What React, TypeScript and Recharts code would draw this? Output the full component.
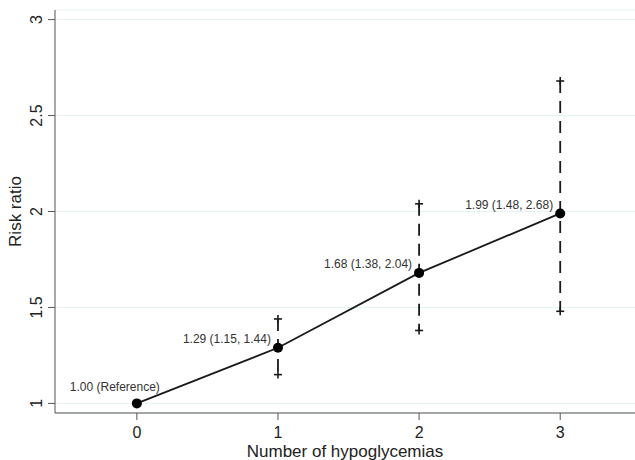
import {
  CartesianGrid,
  ComposedChart,
  LabelList,
  Line,
  ReferenceLine,
  Scatter,
  XAxis,
  YAxis,
} from "recharts";

const hypoCounts = [0, 1, 2, 3];
const riskRatio = [1.0, 1.29, 1.68, 1.99];
const lowerCI: (number | null)[] = [null, 1.15, 1.38, 1.48];
const upperCI: (number | null)[] = [null, 1.44, 2.04, 2.68];
const pointLabels = [
  "1.00 (Reference)",
  "1.29 (1.15, 1.44)",
  "1.68 (1.38, 2.04)",
  "1.99 (1.48, 2.68)",
];
const xTicks = [0, 1, 2, 3];
const yTicks = [1, 1.5, 2, 2.5, 3];

const rows = hypoCounts.map((x, i) => ({ x, rr: riskRatio[i], label: pointLabels[i] }));
const ciRows = hypoCounts
  .map((x, i) => ({ x, lo: lowerCI[i], hi: upperCI[i] }))
  .filter((r) => r.lo !== null && r.hi !== null) as { x: number; lo: number; hi: number }[];
const lowerPts = ciRows.map((r) => ({ x: r.x, y: r.lo }));
const upperPts = ciRows.map((r) => ({ x: r.x, y: r.hi }));

const FONT = "'Liberation Sans', Arial, Helvetica, sans-serif";
const INK = "#1a1a1a";

function PlusMark(props: any) {
  const { cx, cy } = props;
  if (cx == null || cy == null) return null;
  return (
    <g stroke={INK} strokeWidth={1.6}>
      <line x1={cx - 4} y1={cy} x2={cx + 4} y2={cy} />
      <line x1={cx} y1={cy - 4} x2={cx} y2={cy + 4} />
    </g>
  );
}

function PointLabel(props: any) {
  const { x, y, value, index } = props;
  const ref = index === 0;
  return (
    <text
      x={ref ? x + 23 : x - 7}
      y={ref ? y - 17 : y - 9}
      dy="0.35em"
      textAnchor="end"
      fontSize={12}
      fontFamily={FONT}
      fill="#333"
    >
      {value}
    </text>
  );
}

function YTick(props: any) {
  const { x, y, payload } = props;
  const px = x - 4;
  return (
    <text
      x={px}
      y={y}
      transform={`rotate(-90 ${px} ${y})`}
      textAnchor="middle"
      fontSize={16}
      fontFamily={FONT}
      fill="#222"
    >
      {payload.value}
    </text>
  );
}

export default function App() {
  return (
    <div style={{ position: "absolute", left: 0, top: 0, background: "#fff" }}>
      <ComposedChart
        width={635}
        height={460}
        data={rows}
        margin={{ top: 10, right: 0, bottom: 0, left: 0 }}
      >
        <CartesianGrid stroke="#e6f2f2" vertical={false} />
        <XAxis
          dataKey="x"
          type="number"
          domain={[-0.58, 3.53]}
          ticks={xTicks}
          allowDataOverflow
          height={47}
          tickSize={7}
          tickMargin={7}
          stroke="#555"
          tick={{ fontSize: 16, fontFamily: FONT, fill: "#222" }}
          label={{
            content: ({ viewBox }: any) => (
              <text
                x={viewBox.x + viewBox.width / 2}
                y={viewBox.y + 44}
                textAnchor="middle"
                fontSize={17}
                fontFamily={FONT}
                fill="#222"
              >
                Number of hypoglycemias
              </text>
            ),
          }}
        />
        <YAxis
          type="number"
          domain={[0.95, 3.05]}
          ticks={yTicks}
          allowDataOverflow
          width={55}
          tickSize={7}
          stroke="#555"
          tick={<YTick />}
          label={{
            content: ({ viewBox }: any) => {
              const cx = viewBox.x + 21;
              const cy = viewBox.y + viewBox.height / 2;
              return (
                <text
                  x={cx}
                  y={cy}
                  transform={`rotate(-90 ${cx} ${cy})`}
                  textAnchor="middle"
                  fontSize={17}
                  fontFamily={FONT}
                  fill="#222"
                >
                  Risk ratio
                </text>
              );
            },
          }}
        />
        {ciRows.map((r) => (
          <ReferenceLine
            key={r.x}
            segment={[
              { x: r.x, y: r.hi },
              { x: r.x, y: r.lo },
            ]}
            stroke={INK}
            strokeWidth={1.8}
            strokeDasharray="12 8"
            ifOverflow="visible"
          />
        ))}
        <Scatter data={lowerPts} dataKey="y" shape={<PlusMark />} isAnimationActive={false} />
        <Scatter data={upperPts} dataKey="y" shape={<PlusMark />} isAnimationActive={false} />
        <Line
          dataKey="rr"
          stroke={INK}
          strokeWidth={1.8}
          dot={{ r: 5, fill: "#000", stroke: "#000", strokeWidth: 0 }}
          activeDot={false}
          isAnimationActive={false}
        >
          <LabelList dataKey="label" content={<PointLabel />} />
        </Line>
      </ComposedChart>
    </div>
  );
}
